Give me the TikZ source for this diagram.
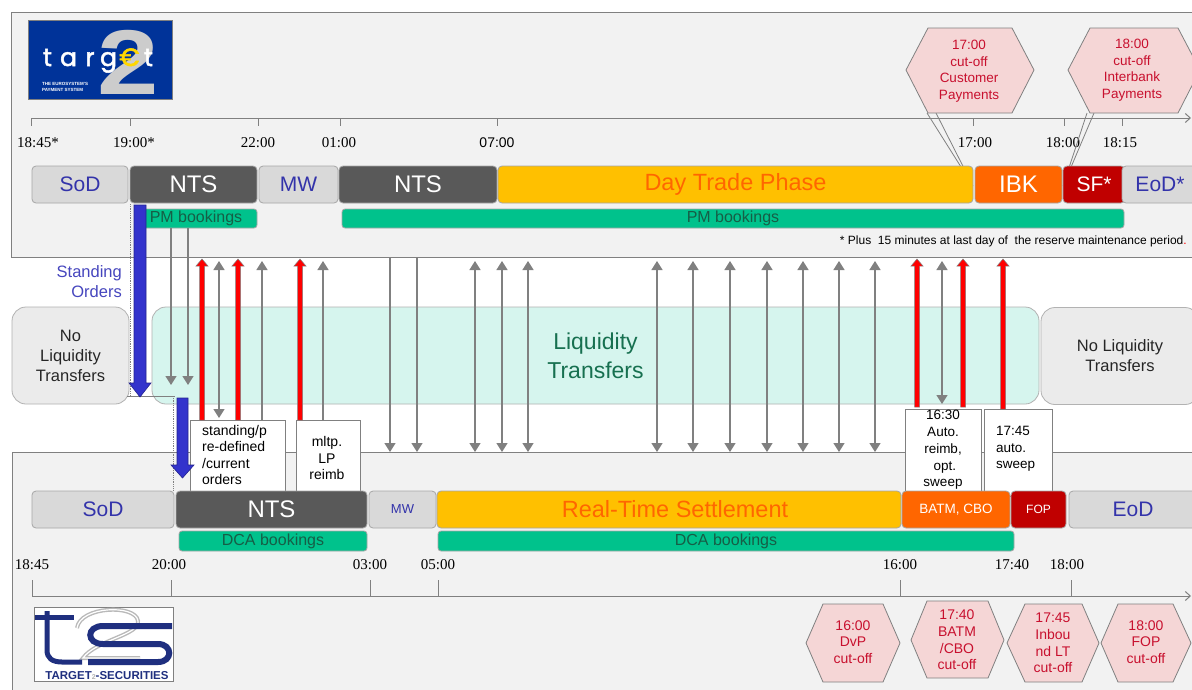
\documentclass[tikz,border=0pt]{standalone}
\usepackage{fontspec}
\setmainfont{Liberation Sans}
\newfontfamily\tserif{Liberation Serif}
\newfontfamily\logofont[FakeBold=2]{Poppins}
\usetikzlibrary{arrows.meta}
\definecolor{panelbg}{RGB}{242,242,242}
\definecolor{panelln}{RGB}{128,128,128}
\definecolor{lgfill}{RGB}{217,217,217}
\definecolor{nltfill}{RGB}{235,235,235}
\definecolor{dkfill}{RGB}{89,89,89}
\definecolor{yel}{RGB}{255,192,0}
\definecolor{org}{RGB}{255,102,0}
\definecolor{dred}{RGB}{192,0,0}
\definecolor{grn}{RGB}{0,194,140}
\definecolor{grntxt}{RGB}{22,94,70}
\definecolor{liqfill}{RGB}{214,245,238}
\definecolor{liqtxt}{RGB}{23,112,80}
\definecolor{bltxt}{RGB}{51,51,170}
\definecolor{sotxt}{RGB}{70,70,190}
\definecolor{hexfill}{RGB}{245,214,214}
\definecolor{hextxt}{RGB}{200,16,46}
\definecolor{arrgray}{RGB}{128,128,128}
\definecolor{blarrow}{RGB}{51,51,204}
\definecolor{logoblue}{RGB}{0,51,153}
\definecolor{t2sblue}{RGB}{31,47,127}
\definecolor{eurogold}{RGB}{255,215,0}
\newcommand\redup[3]{\draw[redarr] (#1-2.5,#2) -- (#1-2.5,#3+7) -- (#1-6,#3+7) -- (#1,#3) -- (#1+6,#3+7) -- (#1+2.5,#3+7) -- (#1+2.5,#2) -- cycle;}
\tikzset{
 panel/.style={draw=panelln, fill=panelbg, line width=1},
 barbase/.style={draw=gray!70, line width=0.8, rounded corners=4, inner sep=0, minimum height=37},
 lbar/.style={barbase, fill=lgfill, text=bltxt, font=\fontsize{21}{25}\selectfont},
 dbar/.style={barbase, fill=dkfill, text=white, font=\fontsize{24}{28}\selectfont},
 gbar/.style={draw=gray!70, line width=0.8, fill=grn, rounded corners=3, inner sep=0, text=grntxt, font=\fontsize{16}{19}\selectfont},
 liqbox/.style={draw=gray!60, line width=0.8, rounded corners=14, inner sep=0, minimum height=97},
 wbox/.style={draw=gray, fill=white, line width=0.8, inner sep=0},
 tlabel/.style={font=\tserif\fontsize{15}{18}\selectfont, inner sep=0},
 tick/.style={draw=gray, line width=1},
 garrow/.style={draw=arrgray, line width=1.4, -{Triangle[width=11pt,length=9pt]}},
 gdouble/.style={draw=arrgray, line width=1.4, {Triangle[width=11pt,length=9pt]}-{Triangle[width=11pt,length=9pt]}},
 redarr/.style={fill=red, draw=gray, line width=0.5},
 bluearr/.style={fill=blarrow, draw=blarrow!70!black, line width=0.6},
 hexshape/.style={fill=hexfill, draw=gray, line width=0.8},
 hextext/.style={text=hextxt, align=center, font=\fontsize{13.5}{16.6}\selectfont, inner sep=0},
 boxtext/.style={font=\fontsize{14}{16.4}\selectfont, inner sep=0},
 logoletter/.style={anchor=base, inner sep=0, text=white, font=\logofont\fontsize{25}{25}\selectfont},
}
\begin{document}
\begin{tikzpicture}[x=1pt,y=-1pt]
\useasboundingbox (0,0) rectangle (1192,689);
\fill[white] (0,0) rectangle (1192,689);
% panels
\draw[panel] (11,12) rectangle (1205,257);
\draw[panel] (12,452) rectangle (1205,700);
% top logo
\draw[fill=logoblue, draw=gray, line width=0.8] (28,20) rectangle (172,99);
\node[inner sep=0, text=gray!40, font=\bfseries\fontsize{92}{92}\selectfont] (two) at (128,62) {\scalebox{1.2}[1]{2}};
\foreach \c/\xx in {t/47.5,a/68.5,r/90,g/108.5,t/148.5}
  \node[logoletter] at (\xx,66) {\c};
\node[logoletter, text=eurogold] (euro) at (129.5,66) {€};
\node[anchor=west, inner sep=0, text=white, font=\bfseries\fontsize{4.5}{5}\selectfont] (tag1) at (42,84) {THE EUROSYSTEM'S};
\node[anchor=west, inner sep=0, text=white, font=\bfseries\fontsize{4.5}{5}\selectfont] (tag2) at (42,90) {PAYMENT SYSTEM};
% top timeline
\draw[draw=gray, line width=1, -{Straight Barb[length=5pt,width=9pt]}] (31,118) -- (1191,118);
\foreach \x in {31,130,258,340,497,973,1064,1122} \draw[tick] (\x,118) -- (\x,126);
\node[tlabel] (t1) at (38,143) {18:45*};
\node[tlabel] (t2) at (134,143) {19:00*};
\node[tlabel] (t3) at (258,143) {22:00};
\node[tlabel] (t4) at (339,143) {01:00};
\node[inner sep=0, font=\fontsize{14}{17}\selectfont] (t5) at (497,143) {07:00};
\node[tlabel] (t6) at (975,143) {17:00};
\node[tlabel] (t7) at (1063,143) {18:00};
\node[tlabel] (t8) at (1120,143) {18:15};
% top hexagon callouts
\draw[draw=gray, line width=0.8] (927,113) -- (973,186) -- (936,113);
\draw[draw=gray, line width=0.8] (1087,113) -- (1063,186) -- (1094,113);
\draw[hexshape] (906,70) -- (928,28) -- (1012,28) -- (1034,70) -- (1012,113) -- (928,113) -- cycle;
\node[hextext] (hx1) at (969,71) {17:00\\cut-off\\Customer\\Payments};
\draw[hexshape] (1068,70) -- (1090,28) -- (1178,28) -- (1200,70) -- (1178,113) -- (1090,113) -- cycle;
\node[hextext] (hx2) at (1132,70) {18:00\\cut-off\\Interbank\\Payments};
% top bars
\node[lbar, minimum width=96] (sodA) at (80,184.5) {SoD};
\node[dbar, minimum width=127] (ntsA) at (193.5,184.5) {NTS};
\node[lbar, minimum width=79] (mwA) at (298.5,184.5) {MW};
\node[dbar, minimum width=158] (ntsB) at (418,184.5) {NTS};
\node[barbase, fill=yel, text=org, font=\fontsize{23.5}{28}\selectfont, minimum width=475] (dtp) at (735.5,184.5) {Day Trade Phase};
\node[barbase, fill=org, text=white, font=\fontsize{24}{28}\selectfont, minimum width=87] (ibk) at (1018.5,184.5) {IBK};
\node[barbase, fill=dred, text=white, font=\fontsize{21}{25}\selectfont, minimum width=62] (sf) at (1094,184.5) {SF*};
\node[lbar, minimum width=76] (eodA) at (1160,184.5) {EoD*};
\node[gbar, minimum width=122, minimum height=19] (pm1) at (196,218.5) {PM bookings};
\node[gbar, minimum width=782, minimum height=19] (pm2) at (733,218.5) {PM bookings};
\node[anchor=east, inner sep=0, font=\fontsize{12}{14}\selectfont] (fn) at (1187,241) {* Plus\ \ 15 minutes at last day of\ \ the reserve maintenance period\textcolor{red}{.}};
% middle boxes
\node[liqbox, fill=nltfill, minimum width=117, align=center, text=black!85, font=\fontsize{16.5}{20}\selectfont] (nlt1) at (70.5,355.5) {No\\Liquidity\\Transfers};
\node[liqbox, fill=liqfill, minimum width=887, align=center, text=liqtxt, font=\fontsize{23}{29}\selectfont] (liq) at (595.5,355.5) {Liquidity\\Transfers};
\node[liqbox, fill=nltfill, minimum width=158, align=center, text=black!85, font=\fontsize{16.5}{20}\selectfont] (nlt2) at (1120,356) {No Liquidity\\Transfers};
\node[anchor=east, align=right, inner sep=0, text=sotxt, font=\fontsize{16.5}{20}\selectfont] (so) at (122,282) {Standing\\Orders};
% white boxes
\node[wbox, anchor=north west, minimum width=95, minimum height=76] (sob) at (190,420) {};
\node[boxtext, anchor=north west, align=left] (sobt) at (202,425) {standing/p\\re-defined\\/current\\orders};
\node[wbox, anchor=north west, minimum width=64, minimum height=76] (mlb) at (296,420) {};
\node[boxtext, align=center] (mlbt) at (327,458) {mltp.\\LP\\reimb};
\node[wbox, anchor=north west, minimum width=76, minimum height=87] (aub) at (905,409) {};
\node[boxtext, align=center, font=\fontsize{13.5}{16.7}\selectfont] (aubt) at (943,450) {16:30\\Auto.\\reimb,\\\ opt.\\sweep};
\node[wbox, anchor=north west, minimum width=68, minimum height=87] (swb) at (984,409) {};
\node[boxtext, anchor=west, align=left, font=\fontsize{13.5}{16.4}\selectfont] (swbt) at (996,449) {17:45\\auto.\\sweep};
% dotted guides and blue arrows
\draw[gray, densely dotted, line width=0.8] (130,204) -- (130,396);
\draw[gray, densely dotted, line width=0.8] (173,396) -- (173,490);
\draw[gray, line width=0.8] (127,396) -- (175,396);
\draw[bluearr] (134,205) -- (134,383) -- (129,383) -- (140,397) -- (151,383) -- (146,383) -- (146,205) -- cycle;
\draw[bluearr] (177,398) -- (177,465) -- (171,465) -- (182.5,478) -- (194,465) -- (188,465) -- (188,398) -- cycle;
% gray arrows
\foreach \x in {171,188} \draw[garrow] (\x,228) -- (\x,385);
\foreach \x in {390,417} \draw[garrow] (\x,258) -- (\x,452);
\draw[gdouble] (219,418) -- (219,261);
\foreach \x in {262,323} \draw[garrow] (\x,420) -- (\x,261);
\foreach \x in {475,502,528,657,693,730,767,803,839,875} \draw[gdouble] (\x,261) -- (\x,452);
\draw[gdouble] (942,261) -- (942,404);
% red arrows
\redup{202}{420}{259}
\redup{238}{420}{259}
\redup{300}{420}{259}
\redup{917}{407}{259}
\redup{963}{407}{259}
\redup{1003}{409}{259}
% bottom bars
\node[lbar, minimum width=142] (sodB) at (103,509.5) {SoD};
\node[dbar, minimum width=191] (ntsC) at (271.5,509.5) {NTS};
\node[lbar, minimum width=67, font=\fontsize{13}{15}\selectfont] (mwB) at (402.5,509.5) {MW};
\node[barbase, fill=yel, minimum width=464] (rts) at (669,509.5) {};
\node[inner sep=0, text=org, font=\fontsize{23.5}{28}\selectfont] (rtst) at (675,509.5) {Real-Time Settlement};
\node[barbase, fill=org, text=white, font=\fontsize{13.5}{16}\selectfont, minimum width=108] (batm) at (956,509.5) {BATM, CBO};
\node[barbase, fill=dred, text=white, font=\fontsize{12}{14}\selectfont, minimum width=55] (fop) at (1038.5,509.5) {FOP};
\node[lbar, minimum width=128] (eodB) at (1133,509.5) {EoD};
\node[gbar, minimum width=188, minimum height=20] (dca1) at (273,541) {DCA bookings};
\node[gbar, minimum width=576, minimum height=20] (dca2) at (726,541) {DCA bookings};
% bottom timeline
\draw[draw=gray, line width=1, -{Straight Barb[length=5pt,width=9pt]}] (32,596) -- (1191,596);
\foreach \x in {32,171,370,438,900,1071} \draw[tick] (\x,580) -- (\x,596);
\node[tlabel] (b1) at (32,565) {18:45};
\node[tlabel] (b2) at (169,565) {20:00};
\node[tlabel] (b3) at (370,565) {03:00};
\node[tlabel] (b4) at (438,565) {05:00};
\node[tlabel] (b5) at (900,565) {16:00};
\node[tlabel] (b6) at (1012,565) {17:40};
\node[tlabel] (b7) at (1067,565) {18:00};
% bottom hexagons
\draw[hexshape] (806,643) -- (823,604) -- (883,604) -- (900,643) -- (883,682) -- (823,682) -- cycle;
\node[hextext, font=\fontsize{14}{16.6}\selectfont] (bh1) at (853,642) {16:00\\DvP\\cut-off};
\draw[hexshape] (911,640) -- (927,601) -- (988,601) -- (1004,640) -- (988,678) -- (927,678) -- cycle;
\node[hextext, font=\fontsize{14}{16.7}\selectfont] (bh2) at (957,640) {17:40\\BATM\\/CBO\\cut-off};
\draw[hexshape] (1007,643) -- (1025,604) -- (1082,604) -- (1099,643) -- (1082,682) -- (1025,682) -- cycle;
\node[hextext, font=\fontsize{14}{16.6}\selectfont] (bh3) at (1053,643) {17:45\\Inbou\\nd LT\\cut-off};
\draw[hexshape] (1101,643) -- (1118,604) -- (1173,604) -- (1191,643) -- (1173,682) -- (1118,682) -- cycle;
\node[hextext, font=\fontsize{14}{16.6}\selectfont] (bh4) at (1146,642) {18:00\\FOP\\cut-off};
% bottom logo
\draw[fill=white, draw=gray, line width=0.8] (34,607) rectangle (173,681);
\draw[draw=gray!55, line width=4] (77,628) .. controls (80,606) and (136,604) .. (138,621) .. controls (140,635) and (96,640) .. (83,658) -- (140,658);
\draw[draw=white, line width=1.2] (77,628) .. controls (80,606) and (136,604) .. (138,621) .. controls (140,635) and (96,640) .. (83,658) -- (140,658);
\draw[draw=t2sblue, line width=6] (172,626) -- (103,626) .. controls (86,626) and (86,644) .. (103,644) -- (158,644) .. controls (173,644) and (173,662) .. (158,662) -- (88,662);
\draw[draw=t2sblue, line width=5] (35,617) -- (74,617);
\draw[draw=t2sblue, line width=5] (47,611) -- (47,650) .. controls (47,658) and (52,662) .. (62,662) -- (82,662);
\node[inner sep=0, text=t2sblue, font=\bfseries\fontsize{11.5}{12}\selectfont] (t2stag) at (107,676) {TARGET{\color{gray!60}\fontsize{7}{8}\selectfont 2}-SECURITIES};
\end{tikzpicture}
\end{document}
